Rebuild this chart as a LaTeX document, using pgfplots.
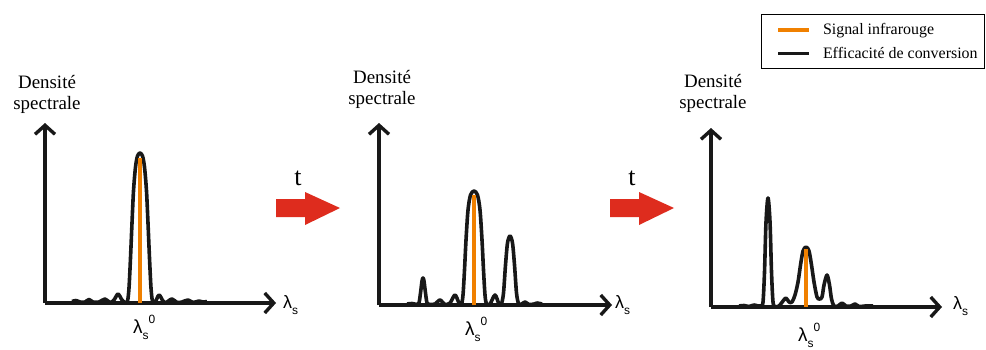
\documentclass[border=0pt]{standalone}
\usepackage{fontspec}
\setmainfont{Liberation Serif}
\newfontfamily\lamfont{Liberation Sans}
\usepackage{pgfplots}
\pgfplotsset{compat=1.18}
\usetikzlibrary{arrows.meta}
\definecolor{sigorange}{RGB}{240,128,0}
\definecolor{arrowred}{RGB}{222,44,30}
\definecolor{curveblack}{RGB}{24,24,24}
\pgfplotsset{
  panel/.style={x=1bp, y=1bp, xmin=0, ymin=0, enlargelimits=false,
    axis lines=left, anchor=south west, clip=false,
    axis line style={line width=3.4bp, curveblack, -{Straight Barb[length=9bp,width=20bp]}},
    xtick=\empty, ytick=\empty},
  curve/.style={line width=3.6bp, curveblack, smooth, tension=0.5, line join=round, forget plot, mark=none},
  signal/.style={line width=3.4bp, sigorange, forget plot, mark=none},
}
\newcommand{\dens}{\fontsize{19}{21}\selectfont}
\newcommand{\lamz}{{\lamfont\fontsize{19}{22}\selectfont λ\raisebox{-6bp}{\fontsize{12}{13}\selectfont s}\raisebox{10bp}{\fontsize{12}{13}\selectfont 0}}}
\newcommand{\lams}{{\lamfont\fontsize{18}{20}\selectfont λ\raisebox{-6bp}{\fontsize{12}{13}\selectfont s}}}
\begin{document}
\begin{tikzpicture}[x=1bp, y=1bp]
\useasboundingbox (0,0) rectangle (986,349);

% ---------------- Panel 1 ----------------
\begin{axis}[panel, at={(45bp,46bp)}, xmax=231, ymax=180]
\addplot[curve] coordinates {
(27,1.5)(31,2.5)(35,1)(40,1)(44,3.5)(48,1)(54,1)(60,4)(65,0.5)(69,3)(73,9)(77,3)(80,0.5)
(82.5,2)(84,15)(85.5,45)(87,80)(88.5,112)(90.5,136)(92.5,147)(95,150)(97.5,147)(99.5,136)
(101.5,112)(103,80)(104.5,45)(106,15)(107.5,2)(110,0.5)(114,8)(118,2)(121,0.5)(127,4)
(132,0.5)(137,1)(143,3)(148,0.5)(154,2)(158,1)(162,1.5)};
\addplot[signal] coordinates {(95,0)(95,145)};
\end{axis}

% ---------------- Panel 2 ----------------
\begin{axis}[panel, at={(379bp,44bp)}, xmax=233, ymax=182]
\addplot[curve] coordinates {
(28,1)(33,1.5)(38,0.5)(40,2)(41.5,12)(43,24)(44,27)(45,24)(46.5,12)(48,2)(50,0.5)(56,1)
(61,5)(66,0.5)(71,2)(76,10)(80,2)(82.5,1)(84,10)(85.5,35)(87,65)(89,95)(91.5,110)(95,114)
(98.5,110)(101,95)(103,65)(104.5,35)(106,10)(107.5,1)(111,1)(116,10)(120,1)(122.5,1.5)
(124.5,12)(126.5,40)(128.5,62)(131,69)(133.5,62)(135.5,40)(137.5,12)(139.5,1.5)(142,0.5)
(146,3)(150,0.5)(155,1)(158,2)(163,1)};
\addplot[signal] coordinates {(95,0)(95,110)};
\end{axis}

% ---------------- Panel 3 ----------------
\begin{axis}[panel, at={(711bp,42bp)}, xmax=231, ymax=179,
  legend style={at={(axis cs:50,293)}, anchor=north west, draw=black, line width=1bp,
    font=\fontsize{16}{18}\selectfont, inner xsep=5bp, inner ysep=7bp, row sep=7bp,
    cells={anchor=west}, /tikz/every odd column/.append style={column sep=10bp}},
  legend image code/.code={\path (0bp,0bp); \draw[#1] (10bp,0bp) -- (41bp,0bp);}]
\addlegendimage{line width=3.5bp, sigorange}
\addlegendentry{Signal infrarouge}
\addlegendimage{line width=3.5bp, curveblack}
\addlegendentry{Efficacité de conversion}
\addplot[curve] coordinates {
(28,1)(33,1.5)(38,0.5)(43,2)(47,1)(50,1)(52,5)(53.5,35)(55,85)(57,109)(59,85)(60.5,35)
(62,5)(64,0.5)(68,1)(72,6)(75,9)(78,5)(81,5)(84,12)(87,25)(89.5,42)(92,56)(95,60)(98,56)
(100.5,42)(103,25)(106,10)(108.5,8)(111,10)(113,22)(116,32)(118.5,22)(120.5,8)(123,1)
(127,1)(131,4)(135,1)(140,1)(144,3)(148,0.5)(154,1)(162,1)};
\addplot[signal] coordinates {(95,0)(95,58)};
\end{axis}

% labels
\node[anchor=base, font=\dens] at (47,261) {Densité};
\node[anchor=base, font=\dens] at (47,240) {spectrale};
\node[anchor=base, font=\dens] at (382,266) {Densité};
\node[anchor=base, font=\dens] at (382,245) {spectrale};
\node[anchor=base, font=\dens] at (713,262) {Densité};
\node[anchor=base, font=\dens] at (713,241) {spectrale};

\node[anchor=base west, inner sep=0pt] at (133,16) {\lamz};
\node[anchor=base west, inner sep=0pt] at (465,14) {\lamz};
\node[anchor=base west, inner sep=0pt] at (798,8) {\lamz};

\node[anchor=base west, inner sep=0pt] at (283,41) {\lams};
\node[anchor=base west, inner sep=0pt] at (615,41) {\lams};
\node[anchor=base west, inner sep=0pt] at (953,40) {\lams};

% time arrows
\fill[arrowred] (276,150) -- (305,150) -- (305,157) -- (340,141) -- (305,124) -- (305,132) -- (276,132) -- cycle;
\fill[arrowred] (610,150) -- (639,150) -- (639,157) -- (674,141) -- (639,124) -- (639,132) -- (610,132) -- cycle;
\node[anchor=base, font=\fontsize{26}{28}\selectfont] at (298,164) {t};
\node[anchor=base, font=\fontsize{26}{28}\selectfont] at (632,164) {t};
\end{tikzpicture}
\end{document}
